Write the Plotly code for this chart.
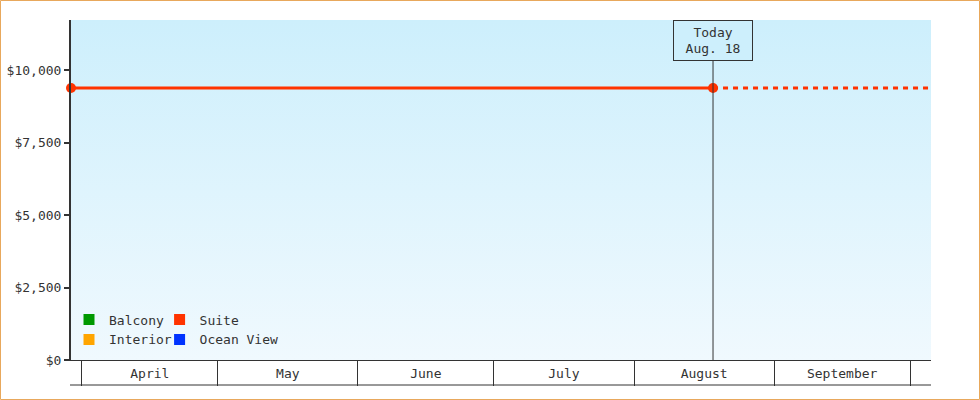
import base64
import plotly.graph_objects as go

# data
months = ["2025-04-01", "2025-05-01", "2025-06-01", "2025-07-01",
          "2025-08-01", "2025-09-01", "2025-10-01"]
suite_dates = ["2025-03-29 14:00", "2025-08-18 11:00"]
suite_prices = [9380, 9380]
projection_dates = ["2025-08-18 11:00", "2025-10-05 15:00"]
projection_prices = [9380, 9380]
today = "2025-08-18 11:00"
today_label = "Today<br>Aug. 18"
legend_left = ["Balcony", "Interior"]
legend_right = ["Suite", "Ocean View"]
colors = {"Balcony": "#009900", "Interior": "#ffa500",
          "Suite": "#ff3300", "Ocean View": "#0033ff"}
y_ticks = [0, 2500, 5000, 7500, 10000]
y_max = 11724

font = dict(family="DejaVu Sans Mono", size=13, color="#333")
ink = "#333"

fig = go.Figure()

# legend entries (square swatches)
for name in legend_left:
    fig.add_trace(go.Scatter(x=[None], y=[None], mode="markers", name=name,
                             marker=dict(symbol="square", size=11, color=colors[name]),
                             legend="legend", xaxis="x2"))
for name in legend_right:
    fig.add_trace(go.Scatter(x=[None], y=[None], mode="markers", name=name,
                             marker=dict(symbol="square", size=11, color=colors[name]),
                             legend="legend2", xaxis="x2"))

# projection (dashed)
fig.add_trace(go.Scatter(x=projection_dates, y=projection_prices, mode="lines",
                         line=dict(color=colors["Suite"], width=3, dash="5px,5px"),
                         showlegend=False, hoverinfo="skip"))
# actual suite price
fig.add_trace(go.Scatter(x=suite_dates, y=suite_prices, mode="lines+markers",
                         line=dict(color=colors["Suite"], width=3),
                         marker=dict(size=10, color=colors["Suite"]),
                         showlegend=False, cliponaxis=False))

# today marker line + label
fig.add_shape(type="line", xref="x", yref="paper", x0=today, x1=today, y0=0, y1=1,
              line=dict(color=ink, width=1), layer="above")
fig.add_annotation(x=today, xref="x", y=1, yref="paper", yanchor="top",
                   text=today_label, showarrow=False, font=font,
                   bgcolor="#cdeffc", bordercolor=ink, borderwidth=1,
                   borderpad=1, width=76, height=37)

# bottom rule of the month cells
fig.add_shape(type="line", xref="paper", yref="paper", x0=-1 / 860, x1=1,
              y0=-25 / 340, y1=-25 / 340, line=dict(color=ink, width=1))
# outer border
fig.add_shape(type="rect", xref="paper", yref="paper",
              x0=-70.5 / 860, x1=1 + 48.5 / 860, y0=-39.5 / 340, y1=1 + 19.5 / 340,
              line=dict(color="#e8a85c", width=1))

# gradient background
svg = ('<svg xmlns="http://www.w3.org/2000/svg" width="10" height="100" '
       'preserveAspectRatio="none"><defs><linearGradient id="g" x1="0" y1="0" '
       'x2="0" y2="1"><stop offset="0" stop-color="#cdeffc"/>'
       '<stop offset="1" stop-color="#f0f9fe"/></linearGradient></defs>'
       '<rect width="10" height="100" fill="url(#g)"/></svg>')
fig.add_layout_image(source="data:image/svg+xml;base64," + base64.b64encode(svg.encode()).decode(),
                     xref="paper", yref="paper", x=0, y=1, sizex=1, sizey=1,
                     sizing="stretch", layer="below")

x_range = [suite_dates[0], projection_dates[-1]]
fig.update_layout(
    width=980, height=400,
    margin=dict(l=71, r=49, t=20, b=40, autoexpand=False),
    paper_bgcolor="white", plot_bgcolor="rgba(0,0,0,0)",
    font=font,
    xaxis=dict(type="date", range=x_range, tickmode="array", tickvals=months,
               showticklabels=False, ticks="outside", ticklen=25, tickwidth=1,
               tickcolor=ink, showline=True, linecolor=ink, linewidth=1,
               showgrid=False, zeroline=False, automargin=False),
    xaxis2=dict(type="date", range=x_range, overlaying="x", side="bottom",
                anchor="y", dtick="M1", tick0=months[0], ticklabelmode="period",
                tickformat="%B", ticks="outside", ticklen=1,
                tickcolor="rgba(0,0,0,0)", showline=False, showgrid=False,
                zeroline=False, tickfont=font, automargin=False),
    yaxis=dict(range=[0, y_max], tickmode="array", tickvals=y_ticks,
               ticktext=[f"${v:,}" for v in y_ticks], ticks="outside", ticklen=5,
               tickwidth=2, tickcolor=ink, showline=True, linecolor=ink,
               linewidth=2, showgrid=False, zeroline=False, automargin=False),
    legend=dict(x=-2 / 860, y=0.016, xanchor="left", yanchor="bottom",
                bgcolor="rgba(0,0,0,0)", itemwidth=30, font=font,
                tracegroupgap=0),
    legend2=dict(x=0.103, y=0.016, xanchor="left", yanchor="bottom",
                 bgcolor="rgba(0,0,0,0)", itemwidth=30, font=font,
                 tracegroupgap=0),
    showlegend=True,
)

fig.write_html("out.html", config={"displayModeBar": False},
               post_script="document.body.style.margin='0';")
